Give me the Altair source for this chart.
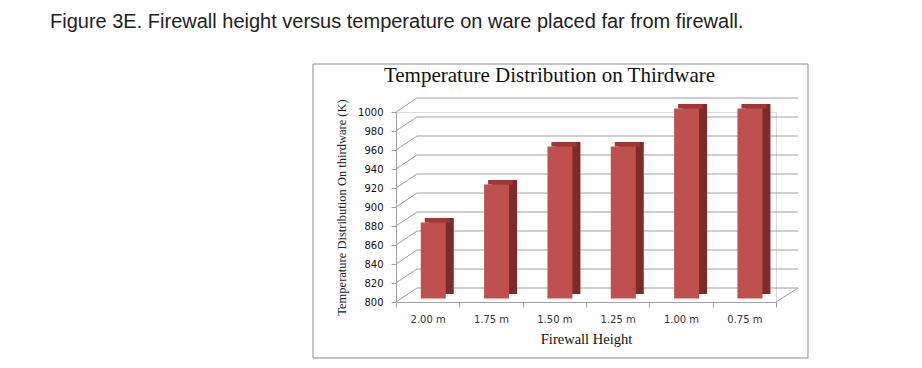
import altair as alt
import pandas as pd

# ---- data ----
heights = ["2.00 m", "1.75 m", "1.50 m", "1.25 m", "1.00 m", "0.75 m"]
temps = [880, 920, 960, 960, 1000, 1000]
y_ticks = [800, 820, 840, 860, 880, 900, 920, 940, 960, 980, 1000]

caption = "Figure 3E. Firewall height versus temperature on ware placed far from firewall."
chart_title = "Temperature Distribution on Thirdware"
x_title = "Firewall Height"
y_title = "Temperature Distribution On thirdware (K)"

bars_df = pd.DataFrame({"height": heights, "temp": temps})
grid_df = pd.DataFrame({"v": y_ticks})
one_df = pd.DataFrame({"k": [0]})

W, H = 380, 190
BASE = 800
DEPTH = 14.74  # back-wall depth expressed in data units (14px)

ysc = alt.Scale(domain=[800, 1000], zero=False, nice=False)
xsc = alt.Scale(paddingInner=0, paddingOuter=0)

GRID = "#a0a0a0"
SERIF = "Liberation Serif"

x_axis = alt.Axis(
    title=x_title, labelAngle=0, tickBand="extent", labelFont="DejaVu Sans",
    labelFontSize=10, labelColor="#333333", tickColor=GRID, domainColor=GRID,
    tickSize=5, labelPadding=7, titleFont=SERIF, titleFontSize=14.5,
    titleFontWeight="normal", titleColor="#111111", titlePadding=8,
)
y_axis = alt.Axis(
    title=y_title, values=y_ticks, format="d", grid=False, labelFont="DejaVu Sans",
    labelFontSize=10, labelColor="#111111", tickColor=GRID, domainColor=GRID,
    tickSize=5, labelPadding=8, titleFont=SERIF, titleFontSize=12.5,
    titleFontWeight="normal", titleColor="#222222", titlePadding=9,
)

def Y(field):
    return alt.Y(field, scale=ysc, axis=y_axis)

def X():
    return alt.X("height:N", sort=heights, scale=xsc, axis=x_axis)

# frame around the chart
frame = alt.Chart(one_df).mark_rect(filled=False, stroke="#8c8c8c", strokeWidth=1).encode(
    x=alt.value(-83), x2=alt.value(412), y=alt.value(-48), y2=alt.value(246)
)

# back-wall gridlines
back = alt.Chart(grid_df).mark_rule(color=GRID, strokeWidth=1, yOffset=-14).encode(
    x=alt.value(21), x2=alt.value(W + 22), y=Y("v:Q"),
)

# diagonal connectors on the left wall
diag = alt.Chart(grid_df).transform_calculate(vb=f"datum.v + {DEPTH}").mark_rule(
    color=GRID, strokeWidth=1
).encode(
    x=alt.value(0), x2=alt.value(21), y=Y("v:Q"), y2="vb:Q",
)

# right floor edge
floor = alt.Chart(one_df).transform_calculate(
    a=f"{BASE}", b=f"{BASE} + {DEPTH}"
).mark_rule(color=GRID, strokeWidth=1).encode(
    x=alt.value(W), x2=alt.value(W + 22), y=Y("a:Q"), y2="b:Q",
)

bars = alt.Chart(bars_df).transform_calculate(base=f"{BASE}")

# bar side (dark) block
side = bars.mark_bar(
    size=25, color="#7d2b29", xOffset=13.6, yOffset=-8, y2Offset=-8
).encode(x=X(), y=Y("temp:Q"), y2="base:Q")
# bar top strip
top = bars.mark_bar(
    size=25, color="#9e3835", xOffset=9.6, yOffset=-8, y2Offset=-3.4
).encode(x=X(), y=Y("temp:Q"), y2="temp:Q")
# bar front face
front = bars.mark_bar(
    size=25, color="#c0504d", xOffset=5.6, yOffset=-3.4, y2Offset=-3.4
).encode(x=X(), y=Y("temp:Q"), y2="base:Q")

cap = alt.Chart(one_df).mark_text(
    text=caption, align="left", baseline="middle", font="Liberation Sans",
    fontSize=20, color="#222222",
).encode(x=alt.value(-346), y=alt.value(-90.5))

ttl = alt.Chart(one_df).mark_text(
    text=chart_title, align="center", baseline="middle", font=SERIF,
    fontSize=21, color="#111111",
).encode(x=alt.value(153.5), y=alt.value(-35.8))

chart = alt.layer(frame, back, diag, floor, side, top, front, cap, ttl).properties(
    width=W, height=H,
    autosize=alt.AutoSizeParams(type="none"),
    padding={"left": 388, "top": 104, "right": 138, "bottom": 58},
).configure_view(stroke=None).configure(background="white")

chart.save("out.html", embed_options={"renderer": "svg", "actions": False})
